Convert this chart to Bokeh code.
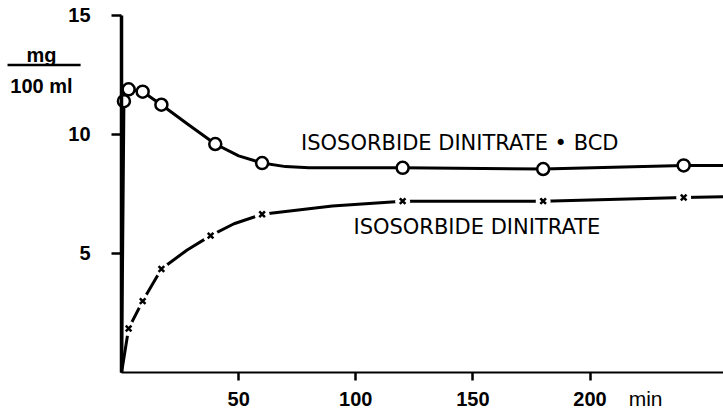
from bokeh.plotting import figure
from bokeh.models import Label, BoxAnnotation, FixedTicker, Range1d, LinearAxis
from bokeh.embed import file_html
from bokeh.resources import INLINE

# ---- data ----
# Isosorbide dinitrate . BCD (open circles), time in min, conc. in mg/100 ml
bcd_t = [1, 3, 9, 17, 40, 60, 120, 180, 240]
bcd_v = [11.4, 11.9, 11.8, 11.25, 9.6, 8.8, 8.6, 8.55, 8.7]
# drawn curve through the circles
bcd_curve_t = [0, 1, 3, 9, 17, 28, 40, 50, 60, 70, 80, 120, 180, 240, 257]
bcd_curve_v = [0, 11.4, 11.9, 11.8, 11.25, 10.45, 9.6, 9.1, 8.8, 8.65, 8.6, 8.6, 8.55, 8.7, 8.7]

# Isosorbide dinitrate (crosses)
dn_t = [3, 9, 17, 38, 60, 120, 180, 240]
dn_v = [1.85, 3.0, 4.35, 5.75, 6.65, 7.2, 7.2, 7.35]
dn_curve_t = [0, 3, 9, 17, 28, 38, 48, 60, 90, 120, 180, 240, 257]
dn_curve_v = [0, 1.85, 3.0, 4.35, 5.15, 5.75, 6.25, 6.65, 7.0, 7.2, 7.2, 7.35, 7.38]

x_ticks = [50, 100, 150, 200]
y_ticks = [5, 10, 15]

label_bcd = "ISOSORBIDE DINITRATE \u2022 BCD"
label_dn = "ISOSORBIDE DINITRATE"
x_unit = "min"
y_unit_top = "mg"
y_unit_bottom = "100 ml"

TICK_FONT = "Liberation Sans"
TEXT_FONT = "DejaVu Sans"

X_MAX = 257
Y_MAX = 15

# the frame spans the whole canvas; axes are pinned at 0
p = figure(width=723, height=409,
           x_range=Range1d(-51.7, X_MAX), y_range=Range1d(-1.555, 15.63),
           output_backend="svg", toolbar_location=None,
           x_axis_location=None, y_axis_location=None,
           min_border_left=0, min_border_right=0,
           min_border_top=0, min_border_bottom=0)
p.outline_line_color = None
p.background_fill_color = "white"
p.border_fill_color = "white"

yax = LinearAxis(fixed_location=0, bounds=(0, Y_MAX))
xax = LinearAxis(fixed_location=0, bounds=(0, X_MAX))
for ax, ticks, tout in ((yax, y_ticks, 10), (xax, x_ticks, 8)):
    ax.ticker = FixedTicker(ticks=ticks)
    ax.axis_line_color = "black"
    ax.major_tick_line_color = "black"
    ax.major_tick_line_width = 2.5
    ax.major_tick_out = tout
    ax.major_tick_in = 0
    ax.minor_tick_line_color = None
    ax.major_label_text_font = TICK_FONT
    ax.major_label_text_font_style = "bold"
    ax.major_label_text_font_size = "20px"
    ax.major_label_text_color = "black"
yax.axis_line_width = 3.5
yax.major_label_standoff = 21
xax.axis_line_width = 2
xax.major_label_standoff = 12
p.add_layout(yax, "left")
p.add_layout(xax, "below")
p.xgrid.visible = False
p.ygrid.visible = False

# curves
p.line(dn_curve_t, dn_curve_v, line_width=3, color="black")
p.scatter(dn_t, dn_v, marker="circle", size=15, fill_color="white", line_color=None)
p.line(bcd_curve_t, bcd_curve_v, line_width=3, color="black")
p.scatter(dn_t, dn_v, marker="x", size=8, line_width=2.5, line_color="black")
p.scatter(bcd_t, bcd_v, marker="circle", size=12, fill_color="white",
          line_color="black", line_width=2.5)

# curve labels
p.add_layout(Label(x=144.4, y=9.66, text=label_bcd, text_align="center",
                   text_baseline="middle", text_font=TEXT_FONT,
                   text_font_size="21px", text_color="black"))
p.add_layout(Label(x=151.7, y=6.13, text=label_dn, text_align="center",
                   text_baseline="middle", text_font=TEXT_FONT,
                   text_font_size="21px", text_color="black"))

# axis units
p.add_layout(Label(x=216.5, y=-1.09, text=x_unit,
                   text_align="left", text_baseline="middle",
                   text_font=TICK_FONT, text_font_size="21px", text_color="black"))
p.add_layout(Label(x=-34.2, y=13.36, text=y_unit_top,
                   text_align="center", text_baseline="middle",
                   text_font=TICK_FONT, text_font_style="bold",
                   text_font_size="20px", text_color="black"))
p.add_layout(Label(x=-34.2, y=12.02, text=y_unit_bottom,
                   text_align="center", text_baseline="middle",
                   text_font=TICK_FONT, text_font_style="bold",
                   text_font_size="20px", text_color="black"))
p.add_layout(BoxAnnotation(left=-48.7, right=-17.5, bottom=12.87, top=12.97,
                           fill_color="black", fill_alpha=1, line_color=None))

open("out.html", "w").write(file_html(p, INLINE))
